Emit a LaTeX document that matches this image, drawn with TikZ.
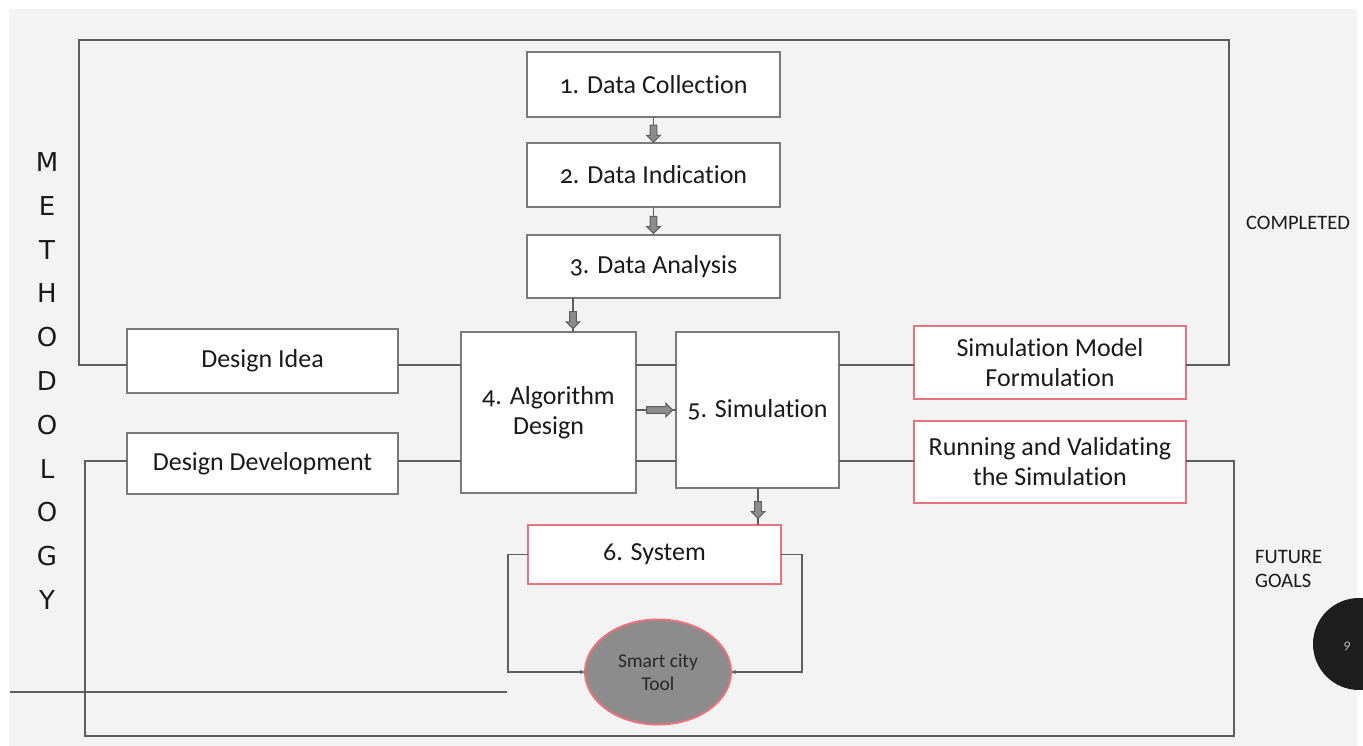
\documentclass[tikz,border=0pt]{standalone}
\usepackage{fontspec}
\setmainfont{Carlito}[Numbers=OldStyle, Ligatures=NoCommon]
\newfontfamily\lettersfont{DejaVu Sans}
\usetikzlibrary{shapes.geometric,shapes.arrows,calc,arrows.meta}
\definecolor{bgc}{HTML}{F3F3F3}
\definecolor{wirec}{HTML}{5E5E5E}
\definecolor{edgec}{HTML}{7A7A7A}
\definecolor{pinkc}{HTML}{E8737F}
\definecolor{textc}{HTML}{1A1A1A}
\definecolor{arrowc}{HTML}{8C8C8C}
\definecolor{badgec}{HTML}{1E1E1E}
\definecolor{badgetext}{HTML}{BEBEBE}
\definecolor{toolfill}{HTML}{8C8C8C}
\definecolor{tooltext}{HTML}{282828}
\tikzset{
  box/.style={draw=edgec, line width=2.4pt, fill=white, outer sep=0pt, inner sep=2pt,
    align=center, text=textc, font=\fontsize{26}{30}\selectfont},
  redbox/.style={box, draw=pinkc, line width=2.2pt},
  wire/.style={draw=wirec, line width=2.4pt},
  thinwire/.style={draw=wirec, line width=1.3pt},
  blockarrow/.style={single arrow, draw=wirec, fill=arrowc, line width=1pt,
    inner sep=2.8pt, single arrow head extend=3.5pt, minimum height=17pt, outer sep=0pt},
  sidelabel/.style={text=textc, font=\fontsize{20.5}{24}\selectfont, inner sep=0pt},
}
\begin{document}
\begin{tikzpicture}[x=1pt, y=-1pt]
\useasboundingbox (0,0) rectangle (1363,746);
\fill[white] (0,0) rectangle (1363,746);
\fill[bgc] (9,9) rectangle (1357,746);

% page badge
\fill[badgec] (1359,644) circle (46);
\node[text=badgetext, font=\fontsize{14}{16}\selectfont\itshape] (pg) at (1347,646) {9};

% rails and corner points
\coordinate (railA) at (0,365);
\coordinate (railB) at (0,461);
\coordinate (tl) at (79,40);
\coordinate (tr) at (1229,40);
\coordinate (bl) at (85,736);
\coordinate (br) at (1234,736);
\coordinate (sl) at (508,672);
\coordinate (sr) at (802,672);
\coordinate (s1) at (10,692);
\coordinate (s2) at (507,692);
\coordinate (a34) at (573,0);
\coordinate (a56) at (758,0);

% stray rule
\draw[wire] (s1) -- (s2);

% process boxes
\node[box, minimum width=253, minimum height=65] (d1) at (653.5,84.5) {1. Data Collection};
\node[box, minimum width=253, minimum height=64] (d2) at (653.5,175) {2. Data Indication};
\node[box, minimum width=253, minimum height=63] (d3) at (653.5,266.5) {3. Data Analysis};
\node[box, minimum width=271, minimum height=64] (idea) at (262.5,361) {Design Idea};
\node[box, minimum width=271, minimum height=61] (dev) at (262.5,463.5) {Design Development};
\node[box, minimum width=175, minimum height=161] (algo) at (548.5,412.5) {4. Algorithm\\Design};
\node[box, minimum width=163, minimum height=156] (sim) at (757.5,410) {5. Simulation};
\node[redbox, minimum width=272, minimum height=73] (smf) at (1050,362.5) {Simulation Model\\Formulation};
\node[redbox, minimum width=272, minimum height=82] (rv) at (1050,462) {Running and Validating\\the Simulation};
\node[redbox, minimum width=253, minimum height=59] (sys) at (654.5,554.5) {6. System};
\node[ellipse, draw=pinkc, line width=2pt, fill=toolfill,
  minimum width=146, minimum height=105, inner sep=0pt, outer sep=0pt, align=center,
  text=tooltext, font=\fontsize{19.5}{23}\selectfont] (tool) at (658,672) {Smart city\\Tool};

% outer loops
\draw[wire] (idea.west |- railA) -| (tl) -- (tr) |- (smf.east |- railA);
\draw[wire] (dev.west |- railB) -| (bl) -- (br) |- (rv.east |- railB);

% horizontal links between columns
\draw[wire] (idea.east |- railA) -- (algo.west |- railA);
\draw[wire] (dev.east |- railB) -- (algo.west |- railB);
\draw[wire] (algo.east |- railA) -- (sim.west |- railA);
\draw[wire] (algo.east |- railB) -- (sim.west |- railB);
\draw[wire] (sim.east |- railA) -- (smf.west |- railA);
\draw[wire] (sim.east |- railB) -- (rv.west |- railB);

% system to tool
\draw[thinwire, -{Stealth[length=5pt,width=4pt]}] (sys.west) -| (sl) -- (tool.west);
\draw[thinwire, -{Stealth[length=5pt,width=4pt]}] (sys.east) -| (sr) -- (tool.east);

% flow arrows
\draw[thinwire] (d1.south) -- (d2.north);
\node[blockarrow, rotate=-90] (ar12) at ($(d1.south)!0.58!(d2.north)$) {};
\draw[thinwire] (d2.south) -- (d3.north);
\node[blockarrow, rotate=-90] (ar23) at ($(d2.south)!0.58!(d3.north)$) {};
\draw[thinwire] (d3.south -| a34) -- (algo.north -| a34);
\node[blockarrow, rotate=-90] (ar34) at ($(d3.south -| a34)!0.6!(algo.north -| a34)$) {};
\draw[thinwire] (algo.east |- sim.center) -- (sim.west);
\node[blockarrow, minimum height=26pt] (ar45) at ($(algo.east |- sim.center)!0.55!(sim.west)$) {};
\draw[thinwire] (sim.south -| a56) -- (sys.north -| a56);
\node[blockarrow, rotate=-90] (ar56) at ($(sim.south -| a56)!0.55!(sys.north -| a56)$) {};

% side labels
\foreach \ch [count=\i from 0] in {M,E,T,H,O,D,O,L,O,G,Y}
  \node[text=textc, font=\lettersfont\fontsize{26}{30}\selectfont, inner sep=0pt] (m\i) at (47,162+43.8*\i) {\ch};
\node[sidelabel, anchor=west] (done) at (1246,223) {COMPLETED};
\node[sidelabel, anchor=north west, align=left] (goals) at (1255,550) {FUTURE\\GOALS};
\end{tikzpicture}
\end{document}
